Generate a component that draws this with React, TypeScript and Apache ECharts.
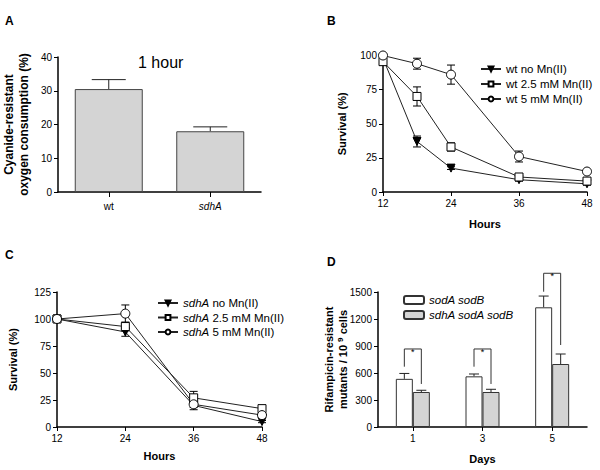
import React, { useEffect, useRef } from "react";
import * as echarts from "echarts";

// Panel A
const aCategories = ["wt", "sdhA"];
const aValues = [30.5, 18];
const aErrors = [2.8, 1.3];

// Panel B
const bHours = [12, 18, 24, 36, 48];
const bNoMn = [98, 37, 17.5, 9, 6];
const bNoMnErr = [2, 4, 1, 1, 1];
const b25 = [95.5, 70, 33, 11, 8];
const b25Err = [2, 7, 3, 1.5, 1];
const b5 = [100, 94, 86, 26, 15];
const b5Err = [1, 4, 7, 4, 1];

// Panel C
const cHours = [12, 24, 36, 48];
const cNoMn = [100, 88, 20, 5];
const cNoMnErr = [0, 4, 2, 1];
const c25 = [100, 93, 27, 17];
const c25Err = [0, 4, 6, 1];
const c5 = [100, 105, 21, 11];
const c5Err = [0, 8, 5, 1];

// Panel D
const dDays = ["1", "3", "5"];
const dSodASodB = [535, 563, 1330];
const dSodASodBErr = [60, 26, 125];
const dSdhA = [389, 389, 700];
const dSdhAErr = [19, 30, 111];
const dBracketTop = [867, 867, 1708];
const dBracketLeft = [670, 670, 1503];
const dBracketRight = [478, 478, 911];

const FONT = "'Liberation Sans', Arial, sans-serif";
const BLACK = "#000";

function axisBase(extra: any) {
  return {
    axisLine: { show: true, lineStyle: { color: BLACK, width: 1.5 } },
    axisTick: { show: true, length: 4, lineStyle: { color: BLACK, width: 1 } },
    axisLabel: { color: BLACK, fontSize: 10, fontFamily: FONT, margin: 6 },
    splitLine: { show: false },
    nameMoveOverlap: false,
    nameTextStyle: { color: BLACK, fontSize: 11, fontWeight: "bold", fontFamily: FONT },
    ...extra,
  };
}

function lineErr(xIdx: number, values: number[], errs: number[], hours: number[]) {
  return {
    type: "custom",
    xAxisIndex: xIdx,
    yAxisIndex: xIdx,
    z: 1,
    silent: true,
    data: hours.map((h, i) => [h, values[i] - errs[i], values[i] + errs[i]]),
    renderItem: (params: any, api: any) => {
      const x = api.value(0);
      const lo = api.coord([x, api.value(1)]);
      const hi = api.coord([x, api.value(2)]);
      const w = 4;
      const st = { stroke: BLACK, lineWidth: 1 };
      return {
        type: "group",
        children: [
          { type: "line", shape: { x1: lo[0], y1: lo[1], x2: hi[0], y2: hi[1] }, style: st },
          { type: "line", shape: { x1: lo[0] - w, y1: lo[1], x2: lo[0] + w, y2: lo[1] }, style: st },
          { type: "line", shape: { x1: hi[0] - w, y1: hi[1], x2: hi[0] + w, y2: hi[1] }, style: st },
        ],
      };
    },
  };
}

function barErr(axisIdx: number, values: number[], errs: number[], offset: number, capHalf: number) {
  return {
    type: "custom",
    xAxisIndex: axisIdx,
    yAxisIndex: axisIdx,
    z: 1,
    silent: true,
    data: values.map((v, i) => [i, v, v + errs[i]]),
    renderItem: (params: any, api: any) => {
      const i = api.value(0);
      const lo = api.coord([i, api.value(1)]);
      const hi = api.coord([i, api.value(2)]);
      const x = lo[0] + offset;
      const st = { stroke: "#222", lineWidth: 1 };
      return {
        type: "group",
        children: [
          { type: "line", shape: { x1: x, y1: lo[1], x2: x, y2: hi[1] }, style: st },
          { type: "line", shape: { x1: x - capHalf, y1: hi[1], x2: x + capHalf, y2: hi[1] }, style: st },
        ],
      };
    },
  };
}

function lineSeries(name: string, idx: number, hours: number[], values: number[], symbol: string, filled: boolean, rotate = 0, size = 9) {
  return {
    type: "line",
    name,
    xAxisIndex: idx,
    yAxisIndex: idx,
    z: 3,
    data: hours.map((h, i) => [h, values[i]]),
    symbol,
    symbolRotate: rotate,
    symbolSize: size,
    showAllSymbol: true,
    lineStyle: { color: "#222", width: 1 },
    itemStyle: filled
      ? { color: BLACK, borderColor: BLACK, borderWidth: 1 }
      : { color: "#fff", borderColor: BLACK, borderWidth: 1 },
  };
}

export default function App() {
  const ref = useRef<HTMLDivElement>(null);
  useEffect(() => {
    if (!ref.current) return;
    const chart = echarts.init(ref.current, null, { renderer: "svg" });
    const legendText = { fontSize: 11.5, fontFamily: FONT, color: BLACK, lineHeight: 14 };
    const letter = { fontSize: 12, fontWeight: "bold", fontFamily: FONT, color: BLACK };
    const option: any = {
      animation: false,
      backgroundColor: "#fff",
      textStyle: { fontFamily: FONT, color: BLACK },
      title: [
        { text: "A", left: 5, top: 15, padding: 0, textStyle: letter },
        { text: "B", left: 327, top: 15, padding: 0, textStyle: letter },
        { text: "C", left: 5, top: 249, padding: 0, textStyle: letter },
        { text: "D", left: 327, top: 256, padding: 0, textStyle: letter },
        { text: "1 hour", left: 138, top: 54, padding: 0, textStyle: { fontSize: 16, fontWeight: "normal", fontFamily: FONT, color: BLACK } },
      ],
      legend: [
        {
          data: ["wt no Mn(II)", "wt 2.5 mM Mn(II)", "wt 5 mM Mn(II)"],
          orient: "vertical",
          left: 480,
          top: 62,
          padding: 0,
          itemWidth: 20,
          itemHeight: 6,
          itemGap: 1,
          textStyle: legendText,
          selectedMode: false,
        },
        {
          data: ["sdhA no Mn(II)", "sdhA 2.5 mM Mn(II)", "sdhA 5 mM Mn(II)"],
          orient: "vertical",
          left: 157,
          top: 296,
          padding: 0,
          itemWidth: 20,
          itemHeight: 6,
          itemGap: 0.5,
          formatter: (n: string) => n.replace("sdhA", "{i|sdhA}"),
          textStyle: {
            ...legendText,
            rich: { i: { ...legendText, fontStyle: "italic" } },
          },
          selectedMode: false,
        },
        {
          data: ["sodA sodB", "sdhA sodA sodB"],
          orient: "vertical",
          left: 403,
          top: 293,
          padding: 0,
          itemWidth: 20,
          itemHeight: 8,
          itemGap: 1,
          textStyle: { ...legendText, fontStyle: "italic" },
          selectedMode: false,
        },
      ],
      grid: [
        { left: 56, top: 57, width: 205, height: 135 },
        { left: 383, top: 55.5, width: 204, height: 136.5 },
        { left: 57, top: 292, width: 205, height: 135 },
        { left: 378, top: 292, width: 209, height: 135 },
      ],
      xAxis: [
        axisBase({
          gridIndex: 0,
          type: "category",
          data: aCategories,
          axisTick: { show: true, length: 5, alignWithLabel: true, lineStyle: { color: BLACK } },
          axisLabel: {
            color: BLACK,
            fontSize: 10,
            fontFamily: FONT,
            margin: 9,
            formatter: (v: string) => (v === "sdhA" ? "{i|sdhA}" : v),
            rich: { i: { fontStyle: "italic", fontSize: 10, fontFamily: FONT, color: BLACK } },
          },
        }),
        axisBase({
          gridIndex: 1,
          type: "value",
          min: 12,
          max: 48,
          interval: 12,
          name: "Hours",
          nameLocation: "middle",
          nameGap: 26,
        }),
        axisBase({
          gridIndex: 2,
          type: "value",
          min: 12,
          max: 48,
          interval: 12,
          name: "Hours",
          nameLocation: "middle",
          nameGap: 23,
        }),
        axisBase({
          gridIndex: 3,
          type: "category",
          data: dDays,
          axisTick: { show: true, length: 4, alignWithLabel: true, lineStyle: { color: BLACK } },
          name: "Days",
          nameLocation: "middle",
          nameGap: 26,
        }),
      ],
      yAxis: [
        axisBase({
          gridIndex: 0,
          type: "value",
          min: 0,
          max: 40,
          interval: 10,
          name: "Cyanide-resistant\noxygen consumption (%)",
          nameLocation: "middle",
          nameGap: 27,
          nameTextStyle: { color: BLACK, fontSize: 12, fontWeight: "bold", fontFamily: FONT, lineHeight: 15 },
        }),
        axisBase({
          gridIndex: 1,
          type: "value",
          min: 0,
          max: 100,
          interval: 25,
          name: "Survival (%)",
          nameLocation: "middle",
          nameGap: 36,
        }),
        axisBase({
          gridIndex: 2,
          type: "value",
          min: 0,
          max: 125,
          interval: 25,
          name: "Survival (%)",
          nameLocation: "middle",
          nameGap: 39,
        }),
        axisBase({
          gridIndex: 3,
          type: "value",
          min: 0,
          max: 1500,
          interval: 300,
          axisLabel: { color: BLACK, fontSize: 10, fontFamily: FONT, margin: 6, formatter: (v: number) => String(v) },
          name: "Rifampicin-resistant\nmutants / 10 {sup|9} cells",
          nameLocation: "middle",
          nameGap: 28,
          nameTextStyle: {
            color: BLACK,
            fontSize: 11,
            fontWeight: "bold",
            fontFamily: FONT,
            lineHeight: 14,
            rich: {
              sup: { fontSize: 8, fontWeight: "bold", fontFamily: FONT, color: BLACK, verticalAlign: "top", lineHeight: 14, padding: [0, 0, 5, 0] },
            },
          },
        }),
      ],
      series: [
        // Panel A
        {
          type: "bar",
          xAxisIndex: 0,
          yAxisIndex: 0,
          data: aValues,
          barWidth: 68,
          z: 2,
          itemStyle: { color: "#d4d4d4", borderColor: "#444", borderWidth: 1 },
        },
        barErr(0, aValues, aErrors, 0, 17),
        // Panel B
        lineErr(1, bNoMn, bNoMnErr, bHours),
        lineErr(1, b25, b25Err, bHours),
        lineErr(1, b5, b5Err, bHours),
        lineSeries("wt no Mn(II)", 1, bHours, bNoMn, "triangle", true, 180, 8),
        lineSeries("wt 2.5 mM Mn(II)", 1, bHours, b25, "rect", false, 0, 8),
        lineSeries("wt 5 mM Mn(II)", 1, bHours, b5, "circle", false, 0, 9),
        // Panel C
        lineErr(2, cNoMn, cNoMnErr, cHours),
        lineErr(2, c25, c25Err, cHours),
        lineErr(2, c5, c5Err, cHours),
        lineSeries("sdhA no Mn(II)", 2, cHours, cNoMn, "triangle", true, 180, 8),
        lineSeries("sdhA 2.5 mM Mn(II)", 2, cHours, c25, "rect", false, 0, 8),
        lineSeries("sdhA 5 mM Mn(II)", 2, cHours, c5, "circle", false, 0, 9),
        // Panel D
        {
          type: "bar",
          name: "sodA sodB",
          xAxisIndex: 3,
          yAxisIndex: 3,
          data: dSodASodB,
          barWidth: 17,
          barGap: "0%",
          z: 2,
          itemStyle: { color: "#fff", borderColor: "#333", borderWidth: 1 },
        },
        {
          type: "bar",
          name: "sdhA sodA sodB",
          xAxisIndex: 3,
          yAxisIndex: 3,
          data: dSdhA,
          barWidth: 17,
          barGap: "0%",
          z: 2,
          itemStyle: { color: "#d4d4d4", borderColor: "#333", borderWidth: 1 },
        },
        barErr(3, dSodASodB, dSodASodBErr, -8.5, 5),
        barErr(3, dSdhA, dSdhAErr, 8.5, 5),
        {
          type: "custom",
          xAxisIndex: 3,
          yAxisIndex: 3,
          z: 3,
          silent: true,
          dimensions: ["day", "top", "left", "right"],
          encode: { x: 0, y: [1, 2, 3] },
          data: dDays.map((d, i) => [i, dBracketTop[i], dBracketLeft[i], dBracketRight[i]]),
          renderItem: (params: any, api: any) => {
            const i = api.value(0);
            const top = api.coord([i, api.value(1)]);
            const lb = api.coord([i, api.value(2)]);
            const rb = api.coord([i, api.value(3)]);
            const xl = top[0] - 8.5;
            const xr = top[0] + 8.5;
            const st = { stroke: "#333", lineWidth: 1 };
            return {
              type: "group",
              children: [
                { type: "line", shape: { x1: xl, y1: lb[1], x2: xl, y2: top[1] }, style: st },
                { type: "line", shape: { x1: xl, y1: top[1], x2: xr, y2: top[1] }, style: st },
                { type: "line", shape: { x1: xr, y1: top[1], x2: xr, y2: rb[1] }, style: st },
                {
                  type: "text",
                  x: top[0],
                  y: top[1] + 3,
                  style: { text: "*", fill: BLACK, font: "9px " + FONT, align: "center", verticalAlign: "middle" },
                },
              ],
            };
          },
        },
      ],
    };
    chart.setOption(option);
    return () => chart.dispose();
  }, []);
  return (
    <div
      ref={ref}
      style={{ position: "fixed", left: 0, top: 0, width: 600, height: 470, background: "#fff" }}
    />
  );
}
